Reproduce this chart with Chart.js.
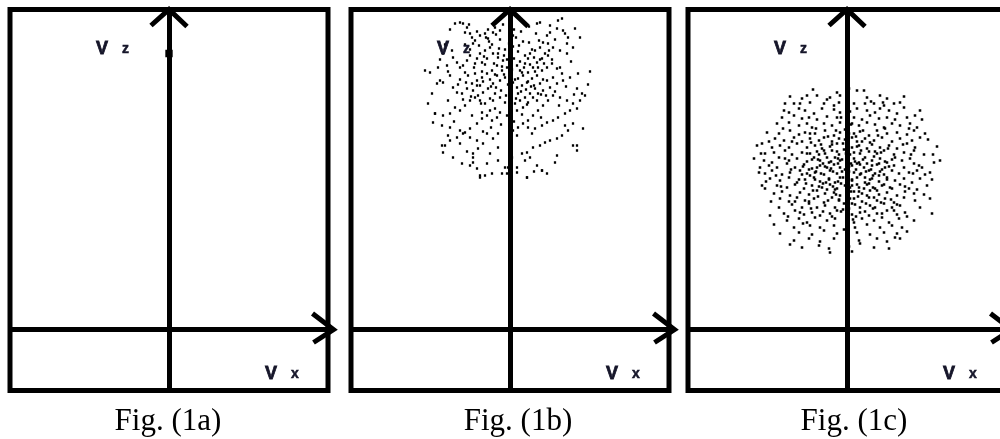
<!DOCTYPE html>
<html>
<head>
<meta charset="utf-8">
<script src="https://cdn.jsdelivr.net/npm/chart.js@4.4.1/dist/chart.umd.min.js"></script>
<style>
  html, body { margin: 0; padding: 0; background: #fff; width: 1000px; height: 439px; overflow: hidden; position: relative; }
  canvas { position: absolute; top: 0; }
  .cap { position: absolute; width: 200px; text-align: center; font-family: 'Liberation Serif', 'Times New Roman', serif;
         font-size: 31px; line-height: 31px; color: #000; top: 404px; white-space: nowrap; }
</style>
</head>
<body>
<canvas id="c0" width="345" height="439"></canvas>
<canvas id="c1" width="345" height="439"></canvas>
<canvas id="c2" width="345" height="439"></canvas>
<div class="cap" id="t0"></div>
<div class="cap" id="t1"></div>
<div class="cap" id="t2"></div>
<script>
// ---------- data ----------
const captions = ['Fig. (1a)', 'Fig. (1b)', 'Fig. (1c)'];
const verticalLabel = ['V', 'z'];
const horizontalLabel = ['V', 'x'];
const vxRange = [-159, 159];
const vzRange = [-61, 320];

// Fig. (1a): a single point on the Vz axis
const panelAPoints = [[0, 276]];

// Fig. (1b): cloud high on the Vz axis
const panelBPoints = [
[-50,307],[-47,306],[-43,302],[-45,297],[-40,296],[-38,292],[-35,289],[-37,286],[-30,294],[-25,296],[-22,291],[-17,297],[-15,302],[-10,299],
[-20,282],[-25,279],[-30,276],[-33,271],[-40,274],[-43,269],[-47,264],[-35,266],[-28,267],[-23,271],[-17,276],[-12,272],[-7,269],[-13,264],
[-18,259],[-23,256],[-28,252],[-33,249],[-38,246],[-42,254],[-45,257],[-50,262],[-53,267],[-57,272],[-58,279],[-67,276],[-72,262],[-63,264],
[-80,257],[-85,259],[-70,249],[-73,246],[-67,247],[-60,254],[-57,242],[-53,237],[-48,236],[-43,241],[-37,239],[-32,234],[-27,237],[-22,241],
[-17,246],[-10,249],[-5,252],[-13,254],[-8,259],[-3,262],[0,267],[7,264],[10,259],[15,266],[18,271],[20,276],[25,279],[30,282],[33,287],
[37,294],[40,297],[47,301],[52,311],[53,299],[58,292],[63,282],[57,276],[50,279],[43,282],[38,274],[32,271],[27,267],[23,262],[18,257],
[13,254],[8,251],[3,247],[7,242],[12,244],[17,247],[22,251],[27,254],[32,259],[37,262],[42,266],[47,261],[52,256],[43,252],[37,249],
[30,246],[25,241],[20,236],[15,232],[10,229],[5,226],[0,222],[-5,227],[-10,232],[-15,236],[-20,231],[-25,226],[-30,229],[-35,232],
[-40,229],[-45,224],[-50,219],[-55,222],[-60,216],[-67,214],[-75,216],[-77,207],[-68,204],[-60,202],[-50,199],[-45,197],[-40,201],
[-33,206],[-28,211],[-23,214],[-18,209],[-13,212],[-10,217],[-15,221],[-20,219],[-28,217],[7,219],[13,222],[18,227],[23,232],[28,236],
[33,239],[40,242],[47,246],[53,249],[60,252],[68,256],[67,241],[72,236],[75,234],[70,229],[63,226],[57,229],[50,232],[43,234],[38,229],
[33,224],[28,219],[23,214],[18,209],[13,206],[8,202],[3,199],[7,194],[18,202],[25,201],[32,204],[37,207],[43,209],[48,212],[55,216],
[60,219],[67,221],[63,206],[58,199],[52,194],[47,191],[40,189],[35,187],[30,184],[23,182],[17,177],[12,176],[15,169],[20,172],[27,164],
[32,159],[37,156],[47,174],[63,184],[67,179],[-65,184],[-67,177],[-60,189],[-53,192],[-47,196],[-40,192],[-33,189],[-27,186],[-32,181],
[-37,176],[-20,176],[-12,169],[-5,162],[-3,156],[-18,156],[-25,154],[-30,152],[-57,172],[-48,166],[-40,164],[-33,161],[7,162],[7,157],
[17,152],[-12,196],[-17,191],[-23,196],[-12,182],
[-5,280],[3,283],[8,278],[-12,276],[15,274],[-3,270],[10,268],[20,265],[-8,263],[2,260],[12,257],[-15,255],[25,258],[5,250],[-2,245],
[18,248],[-20,250],[28,262],[-25,265],[-18,285],[13,288],[22,280],[-10,290],[0,275],[6,292],[30,270],[35,276],[-28,258],[-6,255],[16,240],
[-14,242],[24,244],[8,236],[-30,244],[33,250],[-35,256],[38,286],[-40,280],[4,300],[-22,300],[26,296],[45,290],[42,270],[-45,285],[50,262],
[-50,250],[-55,306],[30,307],[48,309],[65,301],[55,296],[40,304],[-60,300],[70,292],[-65,285],[73,201],[67,184],[-75,216],[-68,184],
[-37,172],[-37,167],[-30,154],[-8,156],[32,159],[-2,162],[17,152],
[-36,262],[-31,284],[-26,273],[-21,288],[-16,266],[-11,281],[-6,274],[-1,286],[4,271],[9,284],[14,262],[19,287],[24,272],[29,289],
[34,266],[39,279],[-33,244],[-27,248],[-19,243],[-9,239],[1,241],[11,238],[21,243],[31,235],[-44,247],[-39,233],[-29,226],[-17,229],
[-4,234],[6,231],[17,225],[27,229],[36,234],[45,238],[-24,292],[-14,295],[-7,305],[3,294],[11,298],[19,303],[27,306],[-33,298],
[-41,305],[57,286],[61,268],[-62,258],[-70,270],[-52,245],[-47,230],[49,224],[56,243],[-3,214],[4,208],[-9,205],[12,215],[-19,202],
[22,196],[-27,198],[31,212],[-38,214],[-56,208],[55,204],[-62,229],[64,235],[-78,236],[78,245],[-82,226],[80,258],[-43,178],[-23,166],
[2,172],[24,158],[45,167],[-50,186],[-62,194]
];

// Fig. (1c): cloud around the middle of the Vz axis
const panelCPoints = [
[2,241],[10,239],[17,239],[-10,237],
[-57,233],[-45,231],[-40,234],[-30,234],[-17,232],[-7,234],[20,232],[33,234],[40,231],[57,233],
[-62,226],[-53,226],[-47,226],[-37,227],[-23,226],[-13,224],[-8,227],[7,226],[18,226],[27,226],[37,224],[47,226],[53,227],
[-63,219],[-58,217],[-48,221],[-42,219],[-33,216],[-25,221],[-13,220],[-7,217],[10,221],[20,219],[28,217],[33,221],[42,219],[50,216],[57,222],[73,219],
[-65,212],[-53,214],[-45,211],[-38,212],[-30,210],[-20,213],[-10,212],[7,212],[15,210],[23,214],[32,211],[40,212],[48,210],[60,212],[68,214],[75,210],
[-70,206],[-58,207],[-48,204],[-40,206],[-35,202],[-23,206],[-15,204],[-7,207],[5,206],[12,204],[20,207],[28,205],[37,202],[45,206],[53,204],[63,206],[70,202],
[-80,197],[-68,196],[-57,199],[-48,195],[-42,197],[-32,196],[-22,199],[-13,194],[-7,197],[7,196],[13,198],[22,194],[30,199],[40,196],[50,197],[60,195],[67,199],[78,196],
[-72,191],[-63,189],[-53,192],[-45,188],[-37,191],[-28,189],[-23,192],[-15,188],[-8,191],[5,192],[10,188],[18,191],[27,189],[35,192],[45,188],[53,191],[65,189],[73,192],
[-90,184],[-85,186],[-75,182],[-67,184],[-58,182],[-50,186],[-40,182],[-32,184],[-25,181],[-17,183],[-10,186],[5,182],[12,184],[20,181],[25,185],[33,182],[42,184],[50,181],[60,186],[68,182],[90,183],
[-82,176],[-73,177],[-62,179],[-55,175],[-45,177],[-37,176],[-30,178],[-22,176],[-15,179],[-8,175],[7,177],[13,176],[22,178],[30,176],[37,179],[47,175],[57,177],[67,179],[77,175],
[-93,171],[-83,169],[-75,167],[-68,172],[-58,169],[-50,171],[-40,168],[-33,172],[-27,169],[-18,167],[-12,172],[-7,169],[7,171],[12,167],[18,172],[25,169],[33,171],[40,167],[48,172],[55,169],[63,171],[87,167],[93,169],
[-87,162],[-78,164],[-70,162],[-60,166],[-52,162],[-43,165],[-35,161],[-27,164],[-20,162],[-13,165],[-7,162],[5,164],[10,166],[17,162],[25,164],[32,166],[38,162],[47,164],[57,162],[67,166],[75,162],
[-88,157],[-82,156],[-75,159],[-65,155],[-57,157],[-47,159],[-40,156],[-32,157],[-23,155],[-17,159],[-10,156],[7,157],[13,155],[22,159],[28,156],[37,155],[45,159],[52,156],[62,157],[70,159],[78,155],[83,157],
[-85,144],[-77,151],[-67,149],[-58,152],[-50,147],[-42,150],[-33,152],[-27,148],[-18,151],[-12,147],[-7,152],[5,149],[10,152],[18,147],[25,151],[32,148],[40,152],[48,149],[57,151],[65,147],[73,151],
[-82,141],[-70,144],[-60,142],[-52,145],[-43,141],[-35,144],[-25,142],[-17,145],[-10,141],[5,144],[12,142],[20,145],[28,141],[35,144],[43,142],[53,145],[62,141],[80,144],
[-73,136],[-65,138],[-57,134],[-47,137],[-38,135],[-30,139],[-22,136],[-13,137],[-7,134],[7,138],[15,136],[23,139],[32,135],[40,137],[50,134],[58,138],[67,136],
[-67,131],[-58,128],[-50,132],[-42,129],[-33,131],[-23,127],[-15,132],[-8,129],[7,131],[15,128],[22,132],[30,129],[38,131],[47,127],[57,132],[68,129],[83,131],
[-68,122],[-55,125],[-45,122],[-38,126],[-30,122],[-22,124],[-12,122],[5,126],[13,122],[23,124],[28,122],[37,126],[45,122],[53,124],[73,122],
[-77,114],[-63,116],[-52,119],[-43,115],[-35,117],[-27,114],[-17,116],[-10,119],[5,115],[13,117],[22,114],[30,116],[40,119],[50,115],[58,117],[85,116],
[-60,109],[-48,111],[-40,107],[-32,112],[-20,109],[-12,111],[7,107],[15,111],[27,109],[35,112],[42,107],[52,111],[67,109],
[-73,105],[-53,102],[-37,104],[-27,102],[-13,104],[8,102],[20,105],[33,102],[45,104],[55,102],
[-67,96],[-48,97],[-35,95],[-23,99],[-10,96],[10,97],[23,95],[37,97],[50,96],[60,98],
[-53,89],[-38,91],[-27,88],[-13,91],[12,89],[30,91],[40,88],[53,91],
[-57,85],[-45,82],[-28,84],[-18,81],[2,83],[13,86],[27,82],[42,81],
[-17,77],[5,78],
[-3,180],[3,175],[-5,170],[4,166],[-2,160],[2,158],[-4,152],[5,150],[-6,146],[3,142],[-20,172],[-16,168],[-22,163],[16,170],[20,166],
[24,160],[-26,156],[-14,158],[14,156],[18,152],[-18,150],[-24,146],[22,146],[26,142],[-12,140],[12,138],[-30,162],[30,165],[-28,175],
[28,178],[-35,170],[35,160],[-10,178],[10,183],[-15,185],[15,188],[-2,190],[2,196],[0,135],[-8,130],[8,125],[-4,120],[6,110],[-3,100],
[0,92],[-2,200],[4,205],[-6,212],[3,218],[0,225],[-20,140],[20,134],[-32,150],[32,154],[-38,160],[38,168],[-40,176],[40,150],[-45,155],[45,170],
[-37,196],[-31,201],[-26,185],[-19,193],[-11,199],[-4,186],[9,193],[16,199],[23,187],[31,194],[38,201],
[-36,187],[-29,170],[-23,179],[-9,171],[-1,176],[8,168],[14,179],[27,173],[34,177],[41,181],
[-44,163],[-37,154],[-31,158],[-24,166],[-16,161],[-9,166],[-5,158],[2,163],[9,160],[13,165],[19,158],[26,154],[33,158],[42,163],
[-41,146],[-34,139],[-28,143],[-21,147],[-14,143],[-9,148],[-2,144],[4,138],[10,145],[17,141],[23,150],[30,139],[37,145],[45,141],
[-38,128],[-29,133],[-19,129],[-11,135],[-3,126],[3,131],[11,133],[19,126],[27,132],[34,127],[44,130],
[-47,117],[-36,121],[-24,118],[-15,113],[-6,118],[2,121],[9,113],[18,118],[26,121],[35,116],[47,119],
[-64,201],[-55,188],[-62,171],[-71,154],[-66,143],[-56,160],[-48,150],[-52,128],[-44,106],[-59,113],
[62,201],[56,185],[64,175],[72,164],[66,156],[58,143],[50,125],[60,113],[48,92],[70,140],
[-78,188],[-86,176],[-81,148],[-76,128],[81,190],[86,175],[85,150],[77,135],[-20,230],[24,228],[-34,240],[36,227]
];

// ---------- layout (pixels) ----------
const panelBoxLeft = [10, 351, 687.5];
const panelData = [panelAPoints, panelBPoints, panelCPoints];
const pointSizes = [5.2, 1.6, 1.8];
const captionCenters = [168, 518, 854];

function drawLabel(ctx, main, sub, x, y) {
  ctx.font = 'bold 18px "Liberation Sans", Arial, sans-serif';
  ctx.lineWidth = 0.8;
  ctx.fillText(main, x, y);
  ctx.strokeText(main, x, y);
  ctx.font = 'bold 14px "Liberation Sans", Arial, sans-serif';
  ctx.lineWidth = 0.5;
  ctx.fillText(sub, x + 26, y - 1);
  ctx.strokeText(sub, x + 26, y - 1);
}

const decor = {
  id: 'decor',
  afterDraw(chart) {
    const { ctx, chartArea: a, scales } = chart;
    const x0 = scales.x.getPixelForValue(0);
    const y0 = scales.y.getPixelForValue(0);
    ctx.save();
    ctx.strokeStyle = '#000';
    ctx.lineWidth = 5;
    ctx.lineJoin = 'miter';
    ctx.strokeRect(a.left, a.top, a.right - a.left, a.bottom - a.top);
    // arrow on Vz axis
    ctx.beginPath();
    ctx.moveTo(x0 - 18, a.top + 16);
    ctx.lineTo(x0, a.top);
    ctx.lineTo(x0 + 18, a.top + 17);
    ctx.stroke();
    // arrow on Vx axis
    const tip = a.right + 5.5;
    ctx.beginPath();
    ctx.moveTo(a.right, y0);
    ctx.lineTo(tip, y0);
    ctx.stroke();
    ctx.beginPath();
    ctx.moveTo(tip - 21, y0 - 16);
    ctx.lineTo(tip, y0);
    ctx.lineTo(tip - 20, y0 + 13);
    ctx.stroke();
    // axis labels
    ctx.fillStyle = '#16162a';
    ctx.strokeStyle = '#16162a';
    ctx.textAlign = 'left';
    ctx.textBaseline = 'alphabetic';
    drawLabel(ctx, verticalLabel[0], verticalLabel[1], x0 - 73, a.top + 44);
    drawLabel(ctx, horizontalLabel[0], horizontalLabel[1], x0 + 96, a.top + 369);
    ctx.restore();
  }
};

function axisScale(range, isX) {
  return {
    type: 'linear',
    min: range[0],
    max: range[1],
    display: true,
    afterBuildTicks: s => { s.ticks = [{ value: 0 }]; },
    afterFit: s => { if (isX) s.height = 0; else s.width = 0; },
    ticks: { display: false },
    grid: { color: '#000', lineWidth: 5, drawTicks: false },
    border: { display: false }
  };
}

panelData.forEach((pts, i) => {
  const cv = document.getElementById('c' + i);
  cv.style.left = (panelBoxLeft[i] - 10) + 'px';
  const cap = document.getElementById('t' + i);
  cap.textContent = captions[i];
  cap.style.left = (captionCenters[i] - 100) + 'px';
  new Chart(cv, {
    type: 'scatter',
    data: {
      datasets: [{
        data: pts.map(p => ({ x: p[0], y: p[1] })),
        pointStyle: 'rect',
        pointRadius: pointSizes[i],
        pointHoverRadius: pointSizes[i],
        backgroundColor: '#000',
        borderWidth: 0
      }]
    },
    options: {
      responsive: false,
      animation: false,
      events: [],
      layout: { padding: { left: 10, top: 9.5, right: 345 - 10 - 318, bottom: 439 - 9.5 - 381 } },
      plugins: { legend: { display: false }, tooltip: { enabled: false } },
      scales: { x: axisScale(vxRange, true), y: axisScale(vzRange, false) }
    },
    plugins: [decor]
  });
});
</script>
</body>
</html>
